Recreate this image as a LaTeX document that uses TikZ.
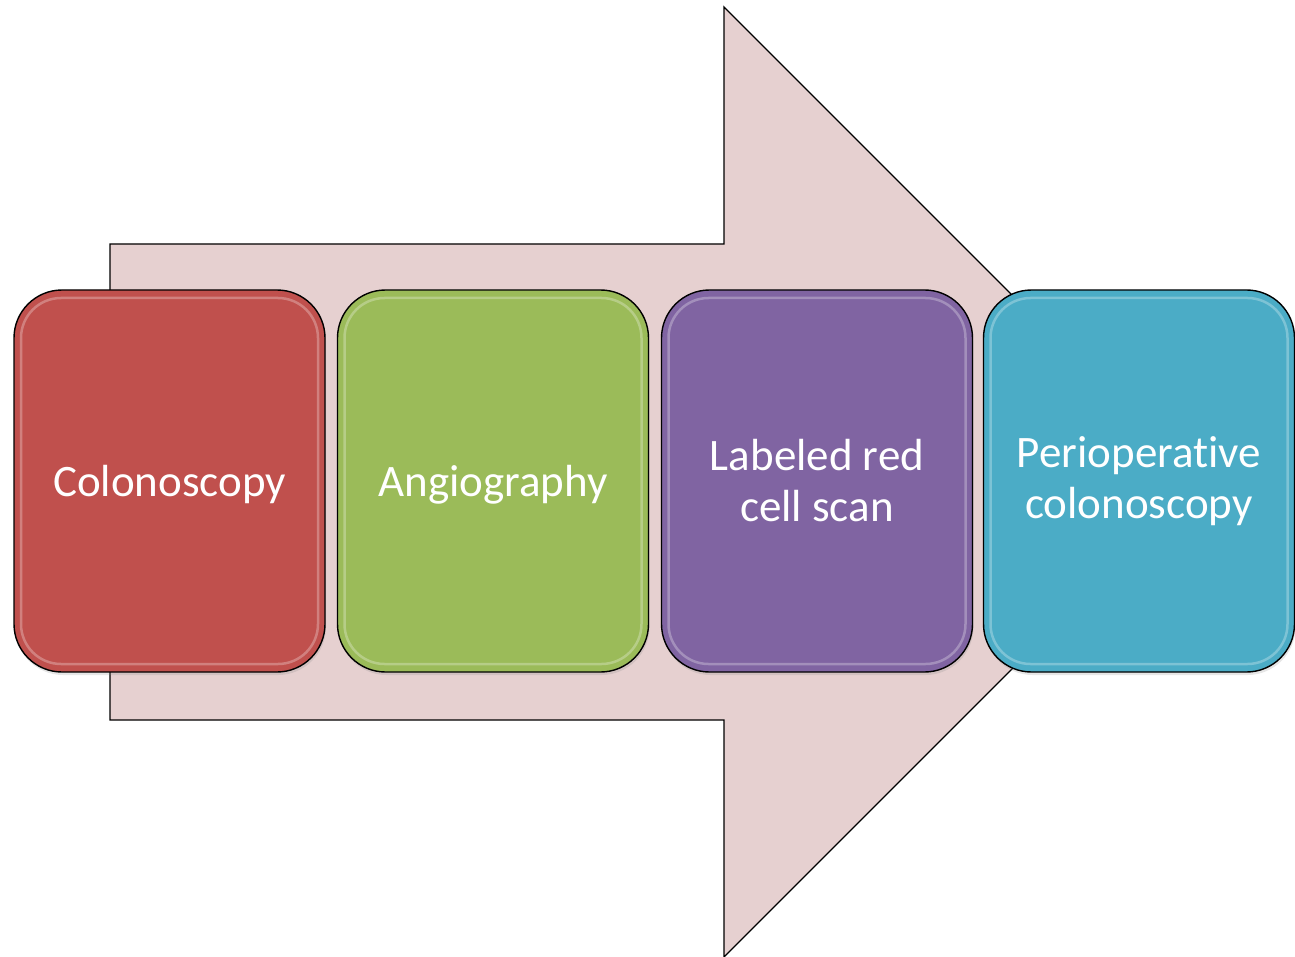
\documentclass[tikz,border=0pt]{standalone}
\usepackage{fontspec}
\setmainfont[Ligatures=NoCommon]{Carlito}
\usetikzlibrary{shadows}
\definecolor{arrowfill}{HTML}{E6D0D0}
\definecolor{stageA}{HTML}{C0504D}
\definecolor{stageB}{HTML}{9BBB59}
\definecolor{stageC}{HTML}{8064A2}
\definecolor{stageD}{HTML}{4BACC6}
\begin{document}
\begin{tikzpicture}[x=1pt,y=-1pt,
  stagebox/.style={draw=black, line width=1.4pt, rounded corners=48pt,
    minimum width=311pt, minimum height=382pt, inner sep=0pt,
    drop shadow={opacity=0.2, shadow xshift=1pt, shadow yshift=-3pt},
    path picture={
      \draw[white, opacity=0.28, line width=2.5pt, rounded corners=40pt]
        ([shift={(7pt,-8pt)}]path picture bounding box.north west) rectangle
        ([shift={(-7pt,8pt)}]path picture bounding box.south east);
    }},
  stagetext/.style={inner sep=0pt, align=center, text=white,
    font=\fontsize{45}{51}\selectfont},
  bigarrow/.style={draw=black, line width=1.3pt, fill=arrowfill, line join=miter}
]
\useasboundingbox (0,0) rectangle (1295,957);

% background process arrow
\draw[bigarrow] (110,244) -- (724,244) -- (724,7) -- (1199,482)
  -- (724,957) -- (724,720) -- (110,720) -- cycle;

% the four stages
\node[stagebox, fill=stageA] (colo)   at (169.5,481) {};
\node[stagebox, fill=stageB] (angio)  at (493,481) {};
\node[stagebox, fill=stageC] (rbc)    at (817,481) {};
\node[stagebox, fill=stageD] (periop) at (1139,481) {};

% stage labels
\node[stagetext] (colo-txt)   at ([yshift=-4pt]colo.center)   {Colonoscopy};
\node[stagetext] (angio-txt)  at ([yshift=-4pt]angio.center)  {Angiography};
\node[stagetext] (rbc-txt)    at (rbc.center)    {Labeled red\\cell scan};
\node[stagetext] (periop-txt) at (periop.center) {Perioperative\\colonoscopy};
\end{tikzpicture}
\end{document}
